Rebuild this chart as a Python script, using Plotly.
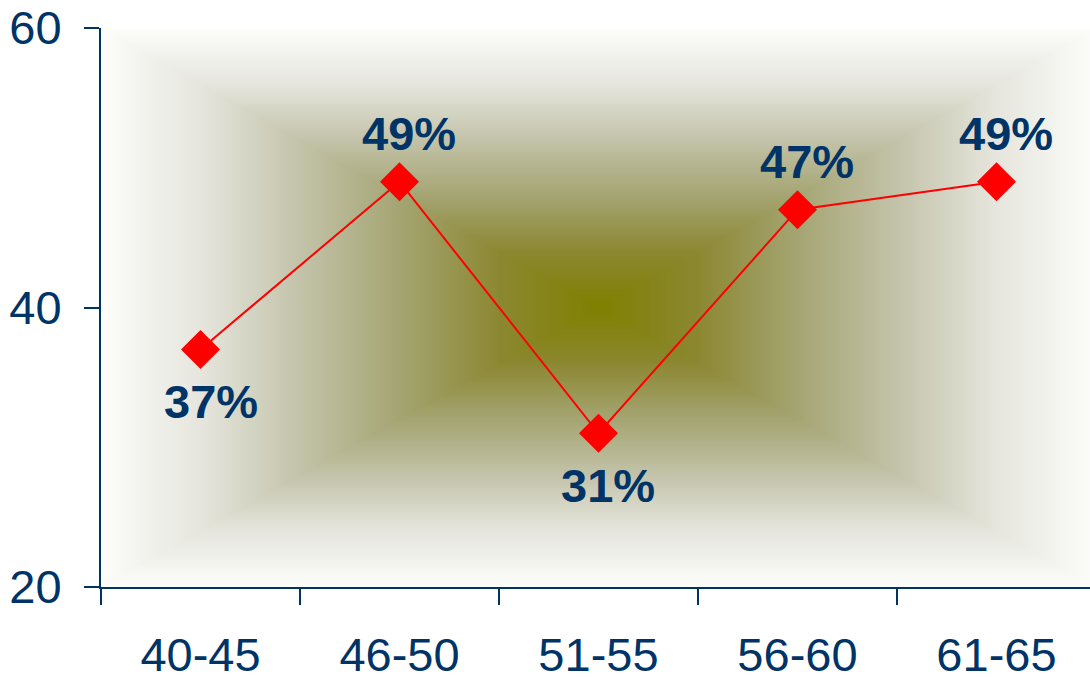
import struct, zlib, base64
import numpy as np
import plotly.graph_objects as go

# ---- data ----
categories = ["40-45", "46-50", "51-55", "56-60", "61-65"]
values = [37, 49, 31, 47, 49]
label_pos = ["below", "above", "below", "above", "above"]
y_ticks = [20, 40, 60]

NAVY = "rgb(0,51,102)"
FONT = "Liberation Sans, Arial, sans-serif"

# ---- background rectangular gradient (decoration) ----
W, H = 995, 559
gx = np.abs(np.linspace(-1, 1, W))[None, :]
gy = np.abs(np.linspace(-1, 1, H))[:, None]
d = np.maximum(gx, gy)
stops = [0.0, 0.2, 0.4, 0.6, 0.8, 1.0]
rs = [128, 140, 165, 195, 230, 253]
gs = [128, 136, 165, 195, 230, 253]
bs = [0, 50, 115, 170, 222, 251]
img = np.stack([np.interp(d, stops, rs), np.interp(d, stops, gs), np.interp(d, stops, bs)], axis=-1).astype(np.uint8)


def png_uri(a):
    h, w, _ = a.shape
    raw = b"".join(b"\x00" + a[r].tobytes() for r in range(h))

    def chunk(t, data):
        c = struct.pack(">I", len(data)) + t + data
        return c + struct.pack(">I", zlib.crc32(t + data) & 0xFFFFFFFF)

    png = b"\x89PNG\r\n\x1a\n" + chunk(b"IHDR", struct.pack(">IIBBBBB", w, h, 8, 2, 0, 0, 0)) \
        + chunk(b"IDAT", zlib.compress(raw, 9)) + chunk(b"IEND", b"")
    return "data:image/png;base64," + base64.b64encode(png).decode()


xs = list(range(len(categories)))

fig = go.Figure()
fig.add_trace(go.Scatter(
    x=xs, y=values, mode="lines+markers",
    line=dict(color="red", width=2),
    marker=dict(symbol="diamond", size=30, color="red", line=dict(width=0)),
    hoverinfo="skip", showlegend=False,
))

for i, (v, p) in enumerate(zip(values, label_pos)):
    fig.add_annotation(
        x=xs[i], y=v, text=f"{v}%", showarrow=False,
        xshift=10, yshift=48 if p == "above" else -52,
        yanchor="middle",
        font=dict(family=FONT, size=47, color=NAVY, weight="bold"),
    )

fig.add_layout_image(dict(
    source=png_uri(img), xref="x", yref="y", x=-0.5, y=60, sizex=5, sizey=40,
    sizing="stretch", layer="below",
))

fig.update_layout(
    width=1090, height=677,
    margin=dict(l=101, r=0, t=28, b=90),
    paper_bgcolor="white", plot_bgcolor="rgba(0,0,0,0)",
    showlegend=False,
    xaxis=dict(
        range=[-0.5, 4.47], tickmode="array", tickvals=xs, ticktext=categories,
        ticks="", showgrid=False, zeroline=False, automargin=False,
        showline=True, linecolor=NAVY, linewidth=2,
        tickfont=dict(family=FONT, size=47, color=NAVY),
        ticklabelstandoff=26, ticklabeloverflow="allow",
        minor=dict(tickmode="array", tickvals=[x - 0.5 for x in xs], ticks="outside",
                   ticklen=16, tickwidth=2, tickcolor=NAVY, showgrid=False),
    ),
    yaxis=dict(
        range=[20, 60], tickmode="array", tickvals=y_ticks,
        ticks="outside", ticklen=15, tickwidth=2, tickcolor=NAVY,
        showgrid=False, zeroline=False, automargin=False,
        showline=True, linecolor=NAVY, linewidth=2,
        tickfont=dict(family=FONT, size=47, color=NAVY),
        ticklabelstandoff=13, ticklabeloverflow="allow",
    ),
)

fig.write_html(
    "out.html",
    config={"displayModeBar": False},
    post_script="document.body.style.margin='0';document.body.style.overflow='hidden';",
)
